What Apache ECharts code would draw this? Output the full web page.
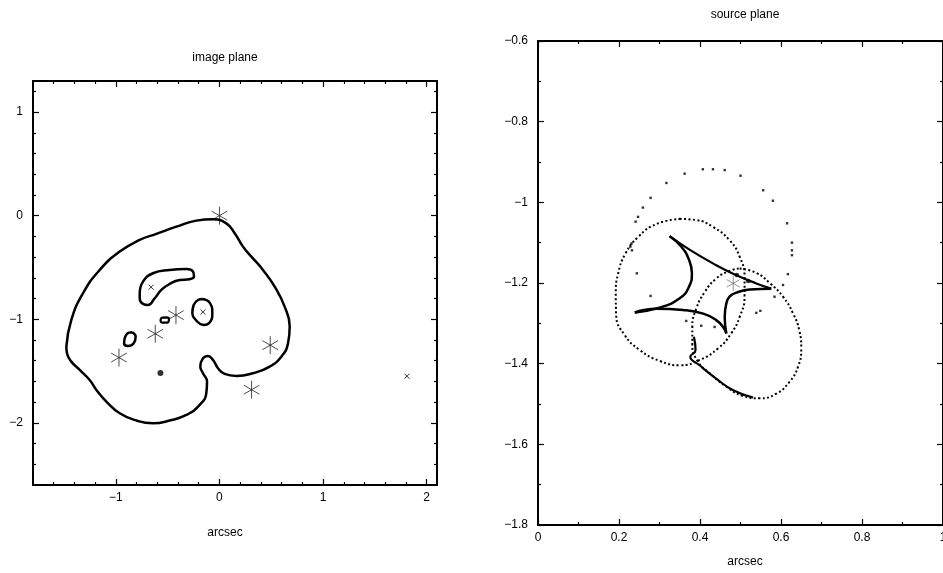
<!DOCTYPE html>
<html>
<head>
<meta charset="utf-8">
<script src="https://cdn.jsdelivr.net/npm/echarts@6/dist/echarts.min.js"></script>
<style>
  html, body { margin: 0; padding: 0; background: #fff; }
  #chart { width: 943px; height: 573px; }
</style>
</head>
<body>
<div id="chart"></div>
<script>
// ---- image plane (left) ----
const imgXRange = [-1.8, 2.1];
const imgYRange = [-2.6, 1.3];
const imgXMajor = [-1, 0, 1, 2];
const imgXMinor = [-1.6, -1.4, -1.2, -0.8, -0.6, -0.4, -0.2, 0.2, 0.4, 0.6, 0.8, 1.2, 1.4, 1.6, 1.8];
const imgYMajor = [-2, -1, 0, 1];
const imgYMinor = [-2.4, -2.2, -1.8, -1.6, -1.4, -1.2, -0.8, -0.6, -0.4, -0.2, 0.2, 0.4, 0.6, 0.8, 1.2];

// critical curves
const outerCurve = [
    [-1.478, -1.264], [-1.430, -1.007], [-1.317, -0.749], [-1.156, -0.524], [-0.963, -0.347],
    [-0.770, -0.234], [-0.609, -0.176], [-0.416, -0.106], [-0.223, -0.048], [-0.062, -0.035],
    [0.066, -0.074], [0.147, -0.170], [0.227, -0.299], [0.308, -0.395], [0.420, -0.524],
    [0.533, -0.685], [0.629, -0.878], [0.678, -1.071], [0.662, -1.232], [0.597, -1.361],
    [0.485, -1.457], [0.324, -1.521], [0.163, -1.547], [0.050, -1.528], [-0.014, -1.473],
    [-0.062, -1.393], [-0.111, -1.354], [-0.159, -1.377], [-0.185, -1.457], [-0.159, -1.521],
    [-0.120, -1.602], [-0.127, -1.714], [-0.191, -1.827], [-0.320, -1.924], [-0.481, -1.978],
    [-0.642, -2.004], [-0.802, -1.978], [-0.963, -1.908], [-1.092, -1.795], [-1.188, -1.682],
    [-1.253, -1.586], [-1.349, -1.489], [-1.430, -1.409], [-1.472, -1.328], [-1.478, -1.264]
];
const bananaCurve = [
    [-0.770, -0.749], [-0.738, -0.637], [-0.642, -0.556], [-0.481, -0.524], [-0.320, -0.514],
    [-0.255, -0.540], [-0.246, -0.588], [-0.288, -0.614], [-0.384, -0.621], [-0.481, -0.659],
    [-0.561, -0.717], [-0.625, -0.797], [-0.690, -0.862], [-0.738, -0.852], [-0.770, -0.797],
    [-0.770, -0.749]
];
const ovalRight = [
    [-0.165, -0.804], [-0.095, -0.839], [-0.069, -0.942], [-0.095, -1.032], [-0.152, -1.055],
    [-0.223, -1.013], [-0.262, -0.942], [-0.249, -0.862], [-0.207, -0.814], [-0.165, -0.804]
];
const ovalLeft = [
    [-0.841, -1.126], [-0.809, -1.167], [-0.828, -1.232], [-0.883, -1.258], [-0.921, -1.232],
    [-0.909, -1.167], [-0.873, -1.129], [-0.841, -1.126]
];
const ovalTiny = [
    [-0.513, -0.981], [-0.487, -0.994], [-0.506, -1.032], [-0.555, -1.032], [-0.568, -1.013],
    [-0.551, -0.984], [-0.513, -0.981]
];
// images (asterisks), lens positions (crosses), central dot
const imgStars = [[0.0, 0.0], [-0.42, -0.96], [-0.62, -1.14], [-0.97, -1.37], [0.49, -1.25], [0.31, -1.68]];
const imgCrosses = [[-0.66, -0.69], [-0.16, -0.93], [1.81, -1.55]];
const imgDot = [[-0.57, -1.52]];

// ---- source plane (right) ----
const srcXRange = [0, 1];
const srcYRange = [-1.8, -0.6];
const srcXMajor = [0, 0.2, 0.4, 0.6, 0.8, 1];
const srcXMinor = [0.1, 0.3, 0.5, 0.7, 0.9];
const srcYMajor = [-1.8, -1.6, -1.4, -1.2, -1, -0.8, -0.6];
const srcYMinor = [-1.7, -1.5, -1.3, -1.1, -0.9, -0.7];

// caustic edges (cusp to cusp)
const causticA = [[0.325, -1.084], [0.354, -1.110], [0.373, -1.143], [0.380, -1.176], [0.373, -1.209], [0.350, -1.238], [0.300, -1.261], [0.239, -1.273]];
const causticB = [[0.239, -1.273], [0.292, -1.264], [0.358, -1.267], [0.408, -1.276], [0.440, -1.292], [0.457, -1.309], [0.465, -1.325]];
const causticC = [[0.465, -1.325], [0.461, -1.284], [0.465, -1.251], [0.473, -1.234], [0.490, -1.224], [0.523, -1.216], [0.576, -1.214]];
const causticD = [[0.576, -1.214], [0.539, -1.201], [0.490, -1.181], [0.440, -1.156], [0.375, -1.118], [0.325, -1.084]];
const causticTail = [[0.385, -1.333], [0.389, -1.366], [0.376, -1.383], [0.399, -1.404], [0.440, -1.437], [0.482, -1.466], [0.531, -1.484]];
const causticBlobs = [[0.491, -1.180], [0.519, -1.195]];

// dotted curves
const dottedLeft = [
    [0.350, -1.041], [0.391, -1.044], [0.432, -1.061], [0.473, -1.094], [0.498, -1.135],
    [0.510, -1.185], [0.510, -1.234], [0.498, -1.284], [0.477, -1.325], [0.445, -1.362],
    [0.399, -1.391], [0.350, -1.404], [0.300, -1.393], [0.251, -1.366], [0.214, -1.329],
    [0.193, -1.280], [0.192, -1.226], [0.198, -1.176], [0.216, -1.127], [0.247, -1.086],
    [0.292, -1.054], [0.350, -1.041]
];
const dottedRight = [
    [0.498, -1.164], [0.539, -1.175], [0.572, -1.200], [0.605, -1.234], [0.630, -1.276],
    [0.645, -1.317], [0.650, -1.362], [0.642, -1.408], [0.621, -1.445], [0.589, -1.474],
    [0.547, -1.486], [0.506, -1.480], [0.465, -1.457], [0.424, -1.424], [0.395, -1.395],
    [0.381, -1.354], [0.381, -1.309], [0.391, -1.263], [0.412, -1.222], [0.440, -1.189],
    [0.473, -1.170], [0.498, -1.164]
];
const sparseDots = [
    [0.362, -0.929], [0.407, -0.918], [0.432, -0.918], [0.461, -0.920], [0.500, -0.934],
    [0.556, -0.970], [0.580, -0.996], [0.615, -1.052], [0.627, -1.100], [0.627, -1.119],
    [0.627, -1.131], [0.617, -1.178], [0.605, -1.205], [0.584, -1.234], [0.317, -0.952],
    [0.278, -0.989], [0.259, -1.013], [0.247, -1.036], [0.241, -1.048], [0.231, -1.102],
    [0.228, -1.110], [0.232, -1.119], [0.244, -1.176], [0.278, -1.232], [0.366, -1.294],
    [0.403, -1.306], [0.436, -1.309], [0.539, -1.274], [0.549, -1.269]
];
const srcStar = [[0.482, -1.201]];

const FONT = 'Liberation Sans';
const minus = v => String(v).replace('-', '\u2212');

function axesFor(dim, gridIndex, range, major, minor) {
    const main = dim === 'x' ? 'bottom' : 'left';
    const opp = dim === 'x' ? 'top' : 'right';
    const base = {
        type: 'value', gridIndex: gridIndex, min: range[0], max: range[1],
        splitLine: { show: false }, minorTick: { show: false }
    };
    const line = { show: true, onZero: false, lineStyle: { color: '#000', width: 2 } };
    const noLine = { show: false, onZero: false };
    const tick = (vals, len) => ({
        show: true, inside: true, length: len, customValues: vals,
        lineStyle: { color: '#000', width: 1.2 }
    });
    return [
        Object.assign({}, base, {
            position: main, axisLine: line, axisTick: tick(major, 6),
            axisLabel: {
                show: true, customValues: major, formatter: minus, color: '#000',
                fontFamily: FONT, fontSize: 12, margin: dim === 'x' ? 7 : 10
            }
        }),
        Object.assign({}, base, { position: main, axisLine: noLine, axisTick: tick(minor, 3), axisLabel: { show: false } }),
        Object.assign({}, base, { position: opp, axisLine: line, axisTick: tick(major, 6), axisLabel: { show: false } }),
        Object.assign({}, base, { position: opp, axisLine: noLine, axisTick: tick(minor, 3), axisLabel: { show: false } })
    ];
}

const starPath = 'path://M0,-10L0,10M-8.66,-5L8.66,5M-8.66,5L8.66,-5';
const crossPath = 'path://M-1,-1L1,1M-1,1L1,-1';

function curve(data, xi, width, extra) {
    return Object.assign({
        type: 'line', data: data, xAxisIndex: xi, yAxisIndex: xi,
        showSymbol: false, symbol: 'none', smooth: 0.5, silent: true,
        lineStyle: { color: '#000', width: width }
    }, extra || {});
}
function dotted(data) {
    return curve(data, 4, 2, {
        lineStyle: { color: '#000', width: 2, type: [2, 2.4] }
    });
}

const chart = echarts.init(document.getElementById('chart'), null, { renderer: 'canvas' });

chart.setOption({
    animation: false,
    backgroundColor: '#fff',
    title: [
        { text: 'image plane', left: 220, top: 47, textAlign: 'center',
          textStyle: { fontFamily: FONT, fontSize: 12, fontWeight: 'normal', color: '#000' } },
        { text: 'arcsec', left: 220, top: 522, textAlign: 'center',
          textStyle: { fontFamily: FONT, fontSize: 12, fontWeight: 'normal', color: '#000' } },
        { text: 'source plane', left: 740, top: 4, textAlign: 'center',
          textStyle: { fontFamily: FONT, fontSize: 12, fontWeight: 'normal', color: '#000' } },
        { text: 'arcsec', left: 740, top: 551, textAlign: 'center',
          textStyle: { fontFamily: FONT, fontSize: 12, fontWeight: 'normal', color: '#000' } }
    ],
    grid: [
        { left: 33, top: 81, width: 404, height: 404, outerBoundsMode: 'none', containLabel: false },
        { left: 538, top: 41, width: 405, height: 484, outerBoundsMode: 'none', containLabel: false }
    ],
    xAxis: [].concat(
        axesFor('x', 0, imgXRange, imgXMajor, imgXMinor),
        axesFor('x', 1, srcXRange, srcXMajor, srcXMinor)
    ),
    yAxis: [].concat(
        axesFor('y', 0, imgYRange, imgYMajor, imgYMinor),
        axesFor('y', 1, srcYRange, srcYMajor, srcYMinor)
    ),
    series: [
        // image plane
        curve(outerCurve, 0, 2.5),
        curve(bananaCurve, 0, 2.5),
        curve(ovalRight, 0, 2.5),
        curve(ovalLeft, 0, 2.5),
        curve(ovalTiny, 0, 2.2),
        { type: 'scatter', data: imgStars, xAxisIndex: 0, yAxisIndex: 0, symbol: starPath,
          symbolSize: 18, symbolKeepAspect: true, silent: true,
          itemStyle: { color: 'none', borderColor: '#222', borderWidth: 1 } },
        { type: 'scatter', data: imgCrosses, xAxisIndex: 0, yAxisIndex: 0, symbol: crossPath,
          symbolSize: 5, silent: true,
          itemStyle: { color: 'none', borderColor: '#000', borderWidth: 1 } },
        { type: 'scatter', data: imgDot, xAxisIndex: 0, yAxisIndex: 0, symbol: 'circle',
          symbolSize: 6, silent: true, itemStyle: { color: '#000' } },
        // source plane
        dotted(dottedLeft),
        dotted(dottedRight),
        { type: 'scatter', data: sparseDots, xAxisIndex: 4, yAxisIndex: 4, symbol: 'rect',
          symbolSize: 2.4, silent: true, itemStyle: { color: '#000' } },
        curve(causticA, 4, 2.5),
        curve(causticB, 4, 2.5),
        curve(causticC, 4, 2.5),
        curve(causticD, 4, 2.2),
        curve(causticTail, 4, 2.2),
        { type: 'scatter', data: causticBlobs, xAxisIndex: 4, yAxisIndex: 4, symbol: 'circle',
          symbolSize: 4.5, silent: true, itemStyle: { color: '#000' } },
        { type: 'scatter', data: srcStar, xAxisIndex: 4, yAxisIndex: 4, symbol: starPath,
          symbolSize: 15, symbolKeepAspect: true, silent: true,
          itemStyle: { color: 'none', borderColor: '#555', borderWidth: 0.8 } }
    ]
});
</script>
</body>
</html>
